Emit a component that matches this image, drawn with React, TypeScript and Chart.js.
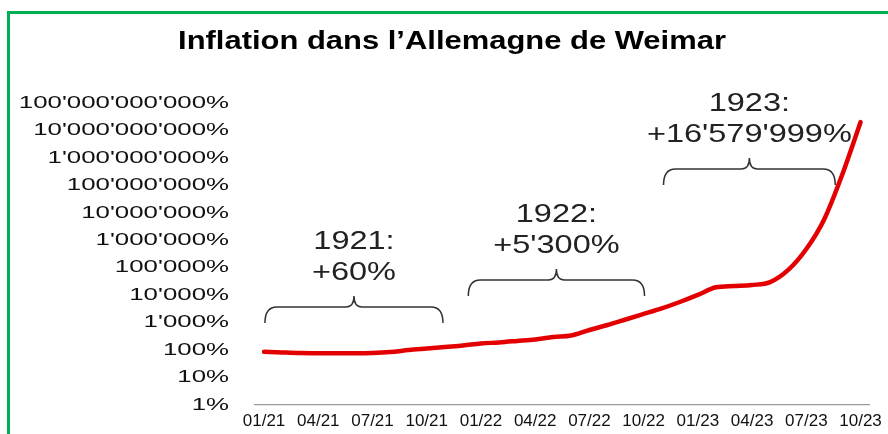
import React, { useEffect, useRef } from 'react';
import { Chart, registerables } from 'chart.js';

Chart.register(...registerables);

const TITLE = 'Inflation dans l’Allemagne de Weimar';

const MONTHS = [
  '01/21', '02/21', '03/21', '04/21', '05/21', '06/21', '07/21', '08/21', '09/21', '10/21', '11/21', '12/21',
  '01/22', '02/22', '03/22', '04/22', '05/22', '06/22', '07/22', '08/22', '09/22', '10/22', '11/22', '12/22',
  '01/23', '02/23', '03/23', '04/23', '05/23', '06/23', '07/23', '08/23', '09/23', '10/23',
];

const TICK_LABELS = ['01/21', '04/21', '07/21', '10/21', '01/22', '04/22', '07/22', '10/22', '01/23', '04/23', '07/23', '10/23'];

// cumulative inflation, in %
const INFLATION = [
  87, 82, 78, 77, 76, 76, 78, 85, 100, 114, 130, 147,
  174, 190, 215, 245, 300, 340, 540, 820, 1300, 2070, 3300, 5650,
  10200, 19400, 21600, 23500, 30000, 83000, 480000, 6000000, 260000000, 20000000000,
];

const Y_TICKS = [1, 10, 100, 1e3, 1e4, 1e5, 1e6, 1e7, 1e8, 1e9, 1e10, 1e11];
const Y_TICK_LABELS = [
  '1%', '10%', '100%', "1'000%", "10'000%", "100'000%", "1'000'000%", "10'000'000%",
  "100'000'000%", "1'000'000'000%", "10'000'000'000%", "100'000'000'000%",
];

const PERIOD_LABELS = ['1921:', '1922:', '1923:'];
const PERIOD_CHANGES = ['+60%', "+5'300%", "+16'579'999%"];

const FONT = '"Liberation Sans", Arial, sans-serif';

function drawStretched(ctx: CanvasRenderingContext2D, text: string, x: number, y: number, font: string, sx: number, align: CanvasTextAlign, color: string) {
  ctx.save();
  ctx.font = font;
  ctx.fillStyle = color;
  ctx.textAlign = align;
  ctx.textBaseline = 'middle';
  ctx.translate(x, y);
  ctx.scale(sx, 1);
  ctx.fillText(text, 0, 0);
  ctx.restore();
}

function drawBrace(ctx: CanvasRenderingContext2D, x0: number, x1: number, xt: number, yt: number) {
  const ym = yt + 11;
  const ye = yt + 27;
  ctx.save();
  ctx.strokeStyle = '#333333';
  ctx.lineWidth = 1.5;
  ctx.beginPath();
  ctx.moveTo(x0, ye);
  ctx.quadraticCurveTo(x0, ym, x0 + 12, ym);
  ctx.lineTo(xt - 8, ym);
  ctx.quadraticCurveTo(xt, ym, xt, yt);
  ctx.quadraticCurveTo(xt, ym, xt + 8, ym);
  ctx.lineTo(x1 - 12, ym);
  ctx.quadraticCurveTo(x1, ym, x1, ye);
  ctx.stroke();
  ctx.restore();
}

// braces anchored in data space: month index range and level of the tip (in %)
const BRACES = [
  { from: 0.05, to: 9.9, level: 9400 },
  { from: 11.3, to: 21.05, level: 90000 },
  { from: 22.1, to: 31.6, level: 1e9 },
];

const overlayPlugin = {
  id: 'overlay',
  beforeDatasetsDraw(chart: any) {
    const ctx: CanvasRenderingContext2D = chart.ctx;
    const xs = chart.scales.x;
    const ys = chart.scales.y;
    const area = chart.chartArea;

    // y tick labels
    Y_TICKS.forEach((v, i) => {
      drawStretched(ctx, Y_TICK_LABELS[i], area.left - 26, ys.getPixelForValue(v), `17px ${FONT}`, 1.52, 'right', '#111111');
    });

    // title
    drawStretched(ctx, TITLE, 452, 41.5, `bold 26px ${FONT}`, 1.19, 'center', '#000000');

    // braces and period annotations
    BRACES.forEach((b, i) => {
      const x0 = xs.getPixelForValue(b.from);
      const x1 = xs.getPixelForValue(b.to);
      const xt = (x0 + x1) / 2;
      const yt = ys.getPixelForValue(b.level);
      drawBrace(ctx, x0, x1, xt, yt);
      drawStretched(ctx, PERIOD_LABELS[i], xt, yt - 54, `26px ${FONT}`, 1.25, 'center', '#222222');
      drawStretched(ctx, PERIOD_CHANGES[i], xt, yt - 23, `26px ${FONT}`, 1.25, 'center', '#222222');
    });
  },
};

export default function App() {
  const canvasRef = useRef<HTMLCanvasElement | null>(null);

  useEffect(() => {
    const canvas = canvasRef.current;
    if (!canvas) return;
    const chart = new Chart(canvas, {
      type: 'line',
      data: {
        labels: MONTHS,
        datasets: [
          {
            label: 'Inflation',
            data: INFLATION,
            borderColor: '#e30000',
            backgroundColor: '#e30000',
            borderWidth: 4.5,
            pointRadius: 0,
            pointHoverRadius: 0,
            cubicInterpolationMode: 'monotone',
            borderCapStyle: 'round',
            borderJoinStyle: 'round',
            fill: false,
            clip: false as any,
          },
        ],
      },
      options: {
        responsive: false,
        animation: false,
        devicePixelRatio: 1,
        layout: { padding: { top: 103, left: 255, right: 13, bottom: 0 } },
        plugins: {
          legend: { display: false },
          title: { display: false },
          tooltip: { enabled: false },
        },
        scales: {
          x: {
            type: 'category',
            offset: true,
            grid: { display: false, drawTicks: false },
            border: { display: true, color: '#9a9a9a', width: 1.2, dash: [2, 3] },
            ticks: {
              autoSkip: false,
              maxRotation: 0,
              minRotation: 0,
              padding: 6,
              color: '#111111',
              font: { family: FONT, size: 17 },
              callback: (_v: any, index: number) => (TICK_LABELS.includes(MONTHS[index]) ? MONTHS[index] : ''),
            },
            afterFit: (scale: any) => {
              scale.height = 29;
            },
          },
          y: {
            type: 'logarithmic',
            min: 1,
            max: 1e11,
            display: false,
          },
        },
      },
      plugins: [overlayPlugin],
    });
    return () => chart.destroy();
  }, []);

  return (
    <div style={{ position: 'fixed', left: 0, top: 0, width: 888, height: 434, overflow: 'hidden', background: '#ffffff' }}>
      <div
        style={{
          position: 'absolute',
          left: 7,
          top: 11,
          width: 1000,
          height: 1000,
          border: '3px solid #00b050',
          boxSizing: 'border-box',
        }}
      />
      <canvas ref={canvasRef} width={888} height={434} style={{ position: 'absolute', left: 0, top: 0, display: 'block' }} />
    </div>
  );
}
